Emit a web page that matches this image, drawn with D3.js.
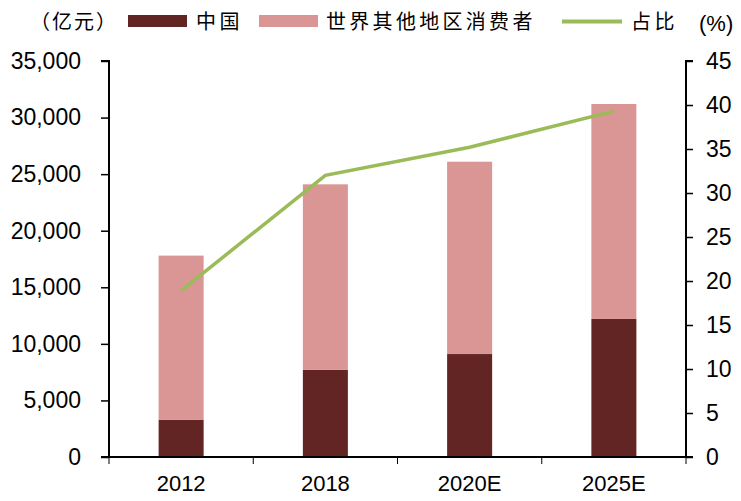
<!DOCTYPE html>
<html>
<head>
<meta charset="utf-8">
<script src="https://cdn.jsdelivr.net/npm/d3@7"></script>
<style>
  body { margin: 0; background: #fff; }
  svg { display: block; }
  .tick text { font-family: "Liberation Sans", Arial, sans-serif; fill: #000; }
  .legend text { font-family: "Noto Sans CJK SC", sans-serif; font-size: 20px; fill: #000; }
</style>
</head>
<body>
<div id="chart"></div>
<script>
// values
const categories = ["2012", "2018", "2020E", "2025E"];
const chinaValues = [3300, 7700, 9100, 12200];        // 中国 (亿元)
const otherValues = [14500, 16400, 17000, 19000];     // 世界其他地区消费者 (亿元)
const shareValues = [18.9, 32.0, 35.2, 39.3];         // 占比 (%)
const leftTicks = [0, 5000, 10000, 15000, 20000, 25000, 30000, 35000];
const rightTicks = [0, 5, 10, 15, 20, 25, 30, 35, 40, 45];

const width = 741, height = 501;
const margin = { top: 61, right: 55, bottom: 44, left: 109 };
const colChina = "#632523", colOther = "#d99694", colLine = "#9bbb59";

const svg = d3.select("#chart").append("svg")
    .attr("width", width)
    .attr("height", height);

const x = d3.scaleBand()
    .domain(categories)
    .range([margin.left, width - margin.right])
    .paddingInner(0.688)
    .paddingOuter(0.344);

const yLeft = d3.scaleLinear()
    .domain([0, 35000])
    .range([height - margin.bottom, margin.top]);

const yRight = d3.scaleLinear()
    .domain([0, 45])
    .range([height - margin.bottom, margin.top]);

// stacked bars
const rows = categories.map((c, i) => ({ cat: c, china: chinaValues[i], other: otherValues[i] }));
const stack = d3.stack().keys(["china", "other"])(rows);
const colors = { china: colChina, other: colOther };

svg.append("g").selectAll("g")
    .data(stack)
    .join("g")
    .attr("fill", d => colors[d.key])
    .selectAll("rect")
    .data(d => d)
    .join("rect")
    .attr("x", d => x(d.data.cat))
    .attr("width", x.bandwidth())
    .attr("y", d => yLeft(d[1]))
    .attr("height", d => yLeft(d[0]) - yLeft(d[1]));

// share line
const line = d3.line()
    .x((d, i) => x(categories[i]) + x.bandwidth() / 2)
    .y(d => yRight(d));

svg.append("path")
    .datum(shareValues)
    .attr("fill", "none")
    .attr("stroke", colLine)
    .attr("stroke-width", 3.5)
    .attr("d", line);

// left axis
const gl = svg.append("g")
    .attr("transform", `translate(${margin.left},0)`)
    .call(d3.axisLeft(yLeft).tickValues(leftTicks).tickSize(8).tickPadding(20)
        .tickFormat(d3.format(",")));
gl.selectAll("text").attr("font-size", 23);

// right axis
const gr = svg.append("g")
    .attr("transform", `translate(${width - margin.right},0)`)
    .call(d3.axisRight(yRight).tickValues(rightTicks).tickSize(7).tickPadding(13));
gr.selectAll("text").attr("font-size", 23);

// bottom axis: labels in band centres, ticks on band boundaries
const gb = svg.append("g")
    .attr("transform", `translate(0,${height - margin.bottom})`)
    .call(d3.axisBottom(x).tickSize(0).tickPadding(0));
gb.selectAll("text").attr("font-size", 22).attr("dy", null).attr("y", 34);
const bounds = categories.map(c => x(c) + x.bandwidth() / 2 - x.step() / 2)
    .concat([width - margin.right]);
gb.selectAll("line.bound")
    .data(bounds)
    .join("line")
    .attr("class", "bound")
    .attr("x1", d => d).attr("x2", d => d)
    .attr("y1", 0).attr("y2", 7)
    .attr("stroke", "#000");

svg.selectAll(".domain").attr("stroke", "#000").attr("stroke-width", 2);
svg.selectAll(".tick line").attr("stroke", "#000").attr("stroke-width", 1.5);
gl.select(".domain").attr("d", `M-8,${margin.top}H0V${height - margin.bottom}`);
gr.select(".domain").attr("d", `M7,${margin.top}H0V${height - margin.bottom}`);
gb.select(".domain").attr("d", `M${margin.left - 8},0H${width - margin.right + 7}`);

// legend
const lg = svg.append("g").attr("class", "legend");
lg.append("text").attr("x", 30).attr("y", 29).attr("letter-spacing", 2).text("（亿元）");
lg.append("rect").attr("x", 128).attr("y", 15).attr("width", 59).attr("height", 12).attr("fill", colChina);
lg.append("text").attr("x", 196).attr("y", 29).attr("letter-spacing", 3.5).text("中国");
lg.append("rect").attr("x", 259).attr("y", 15).attr("width", 59).attr("height", 12).attr("fill", colOther);
lg.append("text").attr("x", 326).attr("y", 29).attr("letter-spacing", 3.3).text("世界其他地区消费者");
lg.append("line").attr("x1", 562).attr("x2", 622).attr("y1", 21.5).attr("y2", 21.5)
    .attr("stroke", colLine).attr("stroke-width", 4);
lg.append("text").attr("x", 631).attr("y", 29).attr("letter-spacing", 3.5).text("占比");
lg.append("text").attr("x", 699).attr("y", 31)
    .style("font-family", "'Liberation Sans', Arial, sans-serif").style("font-size", "22px")
    .text("(%)");
</script>
</body>
</html>
